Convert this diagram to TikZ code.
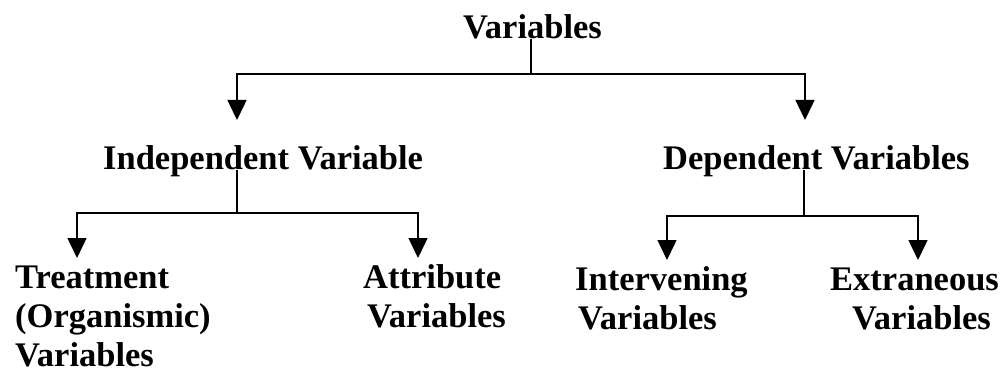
\documentclass[tikz,border=0pt]{standalone}
\usepackage{fontspec}
\setmainfont{Liberation Serif}
\usetikzlibrary{arrows.meta}
\begin{document}
\begin{tikzpicture}[x=1pt,y=-1pt,
  lbl/.style={font=\fontsize{34.5}{39.5}\selectfont\bfseries, inner sep=0pt, anchor=base west},
  conn/.style={line width=1.5pt, black},
  arr/.style={conn, -{Triangle[length=20pt,width=19pt]}}]
\useasboundingbox[fill=white] (0,0) rectangle (1006,374);
% labels
\node[lbl] (root) at (463,39) {Variables};
\node[lbl] (indep) at (103,170) {Independent Variable};
\node[lbl] (dep) at (663,170) {Dependent Variables};
\node[lbl] (treat1) at (15,288) {Treatment};
\node[lbl] (treat2) at (15,327) {(Organismic)};
\node[lbl] (treat3) at (15,366) {Variables};
\node[lbl] (attr1) at (363,288) {Attribute};
\node[lbl] (attr2) at (367,327) {Variables};
\node[lbl] (interv1) at (575,290) {Intervening};
\node[lbl] (interv2) at (578,329) {Variables};
\node[lbl] (extr1) at (830,290) {Extraneous};
\node[lbl] (extr2) at (852,329) {Variables};
% junctions and arrow tips
\coordinate (h1) at (531,74);
\coordinate (a1) at (237,120);
\coordinate (a2) at (805,120);
\coordinate (h2) at (237,213);
\coordinate (b1) at (77,258);
\coordinate (b2) at (418,258);
\coordinate (h3) at (804,216);
\coordinate (c1) at (667,260);
\coordinate (c2) at (918,260);
% connectors
\draw[conn] (h1 |- root.base) -- (h1);
\draw[arr] (h1) -| (a1);
\draw[arr] (h1) -| (a2);
\draw[conn] (h2 |- indep.base) -- (h2);
\draw[arr] (h2) -| (b1);
\draw[arr] (h2) -| (b2);
\draw[conn] (h3 |- dep.base) -- (h3);
\draw[arr] (h3) -| (c1);
\draw[arr] (h3) -| (c2);
\end{tikzpicture}
\end{document}
